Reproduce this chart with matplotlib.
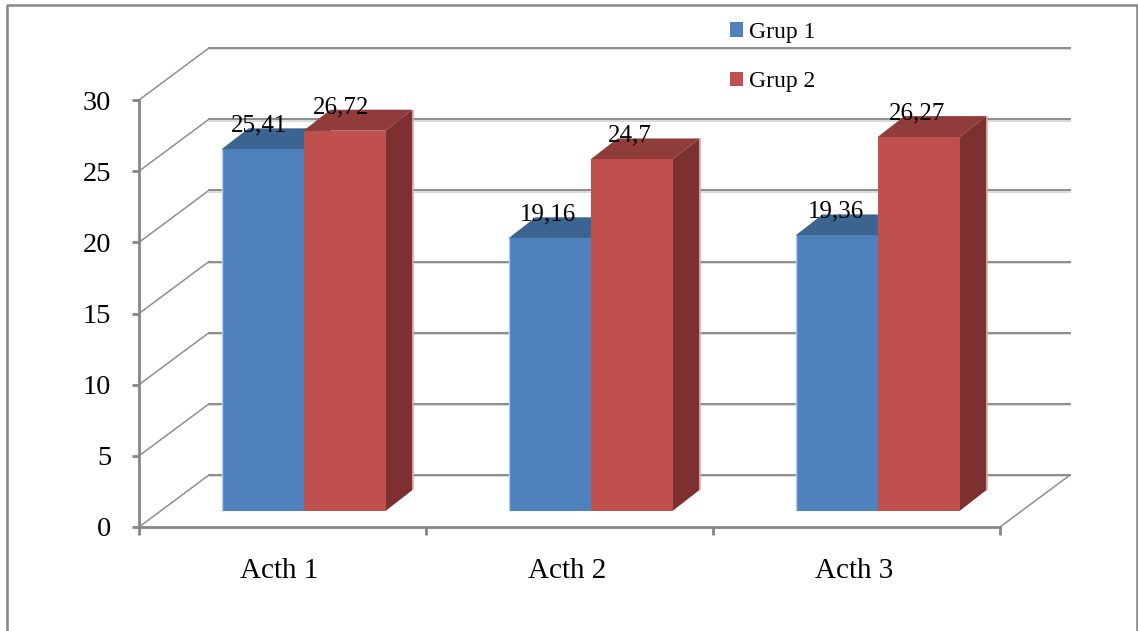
import matplotlib
matplotlib.use("Agg")
import matplotlib.pyplot as plt
from matplotlib.patches import Patch, Polygon
from matplotlib.lines import Line2D

categories = ["Acth 1", "Acth 2", "Acth 3"]
series_names = ["Grup 1", "Grup 2"]
grup1 = [25.41, 19.16, 19.36]
grup2 = [26.72, 24.7, 26.27]
label1 = ["25,41", "19,16", "19,36"]
label2 = ["26,72", "24,7", "26,27"]
yticks = [0, 5, 10, 15, 20, 25, 30]

W, H = 1138, 631
plt.rcParams["font.family"] = ["Liberation Serif", "DejaVu Serif"]
fig = plt.figure(figsize=(W / 100, H / 100), dpi=100)
L, R, T, B = 139, 1000, 100, 527
ax = fig.add_axes([L / W, 1 - B / H, (R - L) / W, (B - T) / H])
ax.set_xlim(0, 3)
ax.set_ylim(0, 30)
ax.patch.set_alpha(0)

px_x = (R - L) / 3
px_y = (B - T) / 30
DX, DY = 70 / px_x, 52 / px_y       # full depth of the chart floor
OX, OY = 21 / px_x, 16 / px_y       # front face of the bars
BX, BY = 27 / px_x, 21 / px_y       # depth of a bar
BW = 82 / px_x

GRID = "#8c8c8c"
for v in yticks:
    ax.plot([0, DX], [v, v + DY], color="#8f8f8f", lw=1.1, clip_on=False, zorder=1)
    ax.plot([DX, 3 + DX], [v + DY - 0.1, v + DY - 0.1], color="#d9d9d9", lw=1.4, clip_on=False, zorder=1)
    ax.plot([DX, 3 + DX], [v + DY, v + DY], color=GRID, lw=1.4, clip_on=False, zorder=1.1)
ax.plot([3, 3 + DX], [0, DY], color="#8f8f8f", lw=1.1, clip_on=False, zorder=1)

FRONT = ["#4F81BD", "#C0504D"]
TOP = ["#3C6491", "#8F3C3A"]
SIDE = ["#33557C", "#7C3130"]
EDGE = ["#B9CDE5", "#D9A9A8"]


def draw_bar(x0, v, k):
    y0 = OY
    ax.add_patch(Polygon([(x0, y0 + v), (x0 + BW, y0 + v), (x0 + BW + BX, y0 + v + BY), (x0 + BX, y0 + v + BY)],
                         closed=True, fc=TOP[k], ec="none", zorder=3 + k, clip_on=False))
    ax.add_patch(Polygon([(x0 + BW, y0), (x0 + BW + BX, y0 + BY), (x0 + BW + BX, y0 + v + BY), (x0 + BW, y0 + v)],
                         closed=True, fc=SIDE[k], ec="none", zorder=3 + k, clip_on=False))
    ax.bar(x0, v, BW, bottom=y0, align="edge", color=FRONT[k], zorder=3.2 + k)
    if k == 0:
        ax.plot([x0, x0], [y0, y0 + v], color=EDGE[0], lw=1.0, zorder=3.3, solid_capstyle="butt")
    else:
        ax.plot([x0 + BW + BX, x0 + BW + BX], [y0 + BY, y0 + v + BY], color=EDGE[1], lw=1.2,
                zorder=3.3 + k, solid_capstyle="butt", clip_on=False)


LABEL_DX = [-3, -2, -1]
for i in range(3):
    cx = i + 0.5 + OX
    draw_bar(cx - BW, grup1[i], 0)
    draw_bar(cx, grup2[i], 1)
    ax.annotate(label1[i], (cx - BW / 2, grup1[i] + OY), xytext=(LABEL_DX[i] * 0.72, 17.0),
                textcoords="offset points", ha="center", va="center", fontsize=18, color="black",
                zorder=8, annotation_clip=False)
    ax.annotate(label2[i], (cx + BW / 2, grup2[i] + OY), xytext=(LABEL_DX[i] * 0.72, 17.0),
                textcoords="offset points", ha="center", va="center", fontsize=18, color="black",
                zorder=8, annotation_clip=False)

for s in ("top", "right"):
    ax.spines[s].set_visible(False)
for s in ("left", "bottom"):
    ax.spines[s].set_color("#868686")
    ax.spines[s].set_linewidth(2.0)
    ax.spines[s].set_zorder(2)

ax.set_yticks(yticks)
ax.set_yticklabels([str(v) for v in yticks], fontsize=20.5)
ax.tick_params(axis="y", length=5, width=2, color="#868686", pad=15)
for t in ax.get_yticklabels():
    t.set_y(t.get_position()[1])
ax.set_xticks([0, 1, 2, 3])
ax.set_xticklabels([])
ax.tick_params(axis="x", which="major", length=5.5, width=2, color="#868686")
ax.set_xticks([0.49, 1.49, 2.49], minor=True)
ax.set_xticklabels(categories, minor=True, fontsize=21)
ax.tick_params(axis="x", which="minor", length=0, pad=22)

handles = [Patch(fc=FRONT[0], ec="none"), Patch(fc=FRONT[1], ec="none")]
fig.legend(handles, series_names, loc="upper left", bbox_to_anchor=(730 / W, 1 - 22 / H),
           frameon=False, fontsize=17, borderpad=0, borderaxespad=0, labelspacing=1.2,
           handlelength=0.56, handleheight=0.56, handletextpad=0.25)

# outer chart frame
fx = [6.5 / W, 6.5 / W, 1137 / W, 1137 / W]
fy = [0, 1 - 5 / H, 1 - 5 / H, 0]
fig.add_artist(Line2D(fx, fy, transform=fig.transFigure, color="#868686", lw=1.8))

fig.savefig("out.png", dpi=100)
